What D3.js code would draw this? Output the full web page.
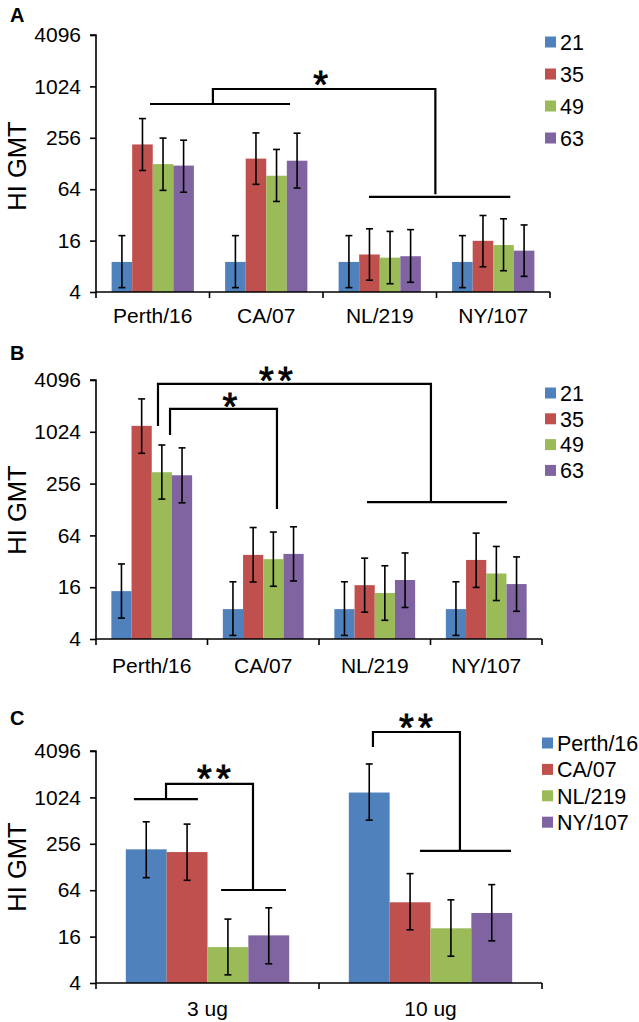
<!DOCTYPE html>
<html><head><meta charset="utf-8">
<script src="https://cdn.jsdelivr.net/npm/d3@7"></script>
<style>body{margin:0;background:#fff}svg{display:block}text{font-family:"Liberation Sans",Arial,sans-serif;fill:#000}</style>
</head><body><svg id="c" width="639" height="1022"></svg>
<script>
const strains = ["Perth/16","CA/07","NL/219","NY/107"];
const days = ["21","35","49","63"];
const doses = ["3 ug","10 ug"];
const yTicks = [4,16,64,256,1024,4096];
const colors = ["#4F81BD","#C0504D","#9BBB59","#8064A2"];

// Panel A: rows = strains, cols = days
const aVal = [[9.0,214,126,121],[9.0,146,92,138],[9.0,11,10.1,10.5],[9.0,15.9,14.2,12.2]];
const aHi  = [[18.3,430,254,240],[18.3,292,187,290],[18.3,22,20.5,21.5],[18.3,31.5,28.8,24.4]];
const aLo  = [[4.5,106,62,59],[4.5,73,46,66],[4.5,5.5,5.0,5.2],[4.5,7.9,7.1,6.1]];
// Panel B
const bVal = [[14.4,1200,347,320],[8.9,38,33.9,39],[8.9,16.9,13.7,19.4],[8.9,33.2,23.1,17.4]];
const bHi  = [[29.8,2470,719,666],[18.5,79,70,80.6],[18.5,34.8,28.4,40],[18.5,68,47.6,36]];
const bLo  = [[7.0,576,169,153],[4.4,18.4,16.4,18.9],[4.4,8.2,6.6,9.3],[4.4,15.9,11.2,8.4]];
// Panel C: rows = doses, cols = strains
const cVal = [[217,200,11.7,16.6],[1184,44.6,20.5,32.4]];
const cHi  = [[494,461,27,37.8],[2780,105,48,75.6]];
const cLo  = [[93,86,5.1,7.1],[519,19.6,8.9,14.1]];

// significance brackets: polylines in (category units, titer)
const aBr = [
  [[0.476,637],[1.71,637]],
  [[1.03,637],[1.03,955],[2.99,955],[2.99,56]],
  [[2.405,52],[3.65,52]]
];
const aStars = [{x:1.98,y:1325,n:1}];
const bBr = [
  [[0.556,1195],[0.556,3690],[3.004,3690],[3.004,156]],
  [[2.43,156],[3.686,156]],
  [[0.664,943],[0.664,1887],[1.623,1887],[1.623,130]]
];
const bStars = [{x:1.614,y:4940,n:2},{x:1.20,y:2470,n:1}];
const cBr = [
  [[0.17,975],[0.457,975]],
  [[0.314,975],[0.314,1530],[0.704,1530],[0.704,64.4]],
  [[0.561,64.4],[0.852,64.4]],
  [[1.242,4600],[1.242,7230],[1.632,7230],[1.632,207]],
  [[1.453,207],[1.861,207]]
];
const cStars = [{x:0.529,y:2260,n:2},{x:1.435,y:10370,n:2}];

const svg = d3.select("#c");

function panel(o){
  const g = svg.append("g");
  const y = d3.scaleLog().base(2).domain([4,4096]).range([o.y0,o.y1]);
  const x0 = d3.scaleBand().domain(o.cats).range([o.x0,o.x1]);
  const x1 = d3.scaleBand().domain(o.series).range([0,x0.bandwidth()]).paddingOuter(o.pad);
  const xu = d3.scaleLinear().domain([0,o.cats.length]).range([o.x0,o.x1]);
  o.cats.forEach((c,i)=>{
    o.series.forEach((s,j)=>{
      const bx = x0(c)+x1(s);
      g.append("rect").attr("x",bx).attr("width",x1.bandwidth())
        .attr("y",y(o.val[i][j])).attr("height",o.y0-y(o.val[i][j]))
        .attr("fill",colors[j]);
    });
  });
  o.cats.forEach((c,i)=>{
    o.series.forEach((s,j)=>{
      const cx = x0(c)+x1(s)+x1.bandwidth()/2;
      const hi=y(o.hi[i][j]), lo=y(o.lo[i][j]);
      g.append("line").attr("x1",cx).attr("x2",cx).attr("y1",hi).attr("y2",lo).attr("stroke","#000").attr("stroke-width",1.6);
      [hi,lo].forEach(v=>g.append("line").attr("x1",cx-3.5).attr("x2",cx+3.5).attr("y1",v).attr("y2",v).attr("stroke","#000").attr("stroke-width",1.6));
    });
  });
  const ya = g.append("g").attr("transform",`translate(${o.x0},0)`)
    .call(d3.axisLeft(y).tickValues(yTicks).tickFormat(d3.format("d")).tickSize(6).tickPadding(9));
  ya.select(".domain").attr("stroke-width",1.6).attr("d",`M-6,${o.y1}H0V${o.y0}`);
  ya.selectAll(".tick line").attr("stroke-width",1.6);
  ya.selectAll("text").attr("font-size",21).attr("font-family","Liberation Sans, Arial, sans-serif");
  const xa = g.append("g").attr("transform",`translate(0,${o.y0})`);
  xa.append("line").attr("x1",o.x0).attr("x2",o.x1).attr("stroke","#000").attr("stroke-width",1.6);
  d3.range(o.cats.length+1).forEach(k=>{
    xa.append("line").attr("x1",xu(k)).attr("x2",xu(k)).attr("y1",0).attr("y2",6).attr("stroke","#000").attr("stroke-width",1.6);
  });
  o.cats.forEach(c=>{
    g.append("text").attr("x",x0(c)+x0.bandwidth()/2).attr("y",o.labY).attr("text-anchor","middle").attr("font-size",21).text(c);
  });
  g.append("text").attr("transform",`translate(26,${o.titleY}) rotate(-90)`).attr("text-anchor","middle").attr("font-size",25.5).text("HI GMT");
  g.append("text").attr("x",10).attr("y",o.letY).attr("font-size",20).attr("font-weight","bold").text(o.letter);
  o.legItems.forEach((t,j)=>{
    const cy = o.legY + j*o.legStep;
    g.append("rect").attr("x",o.legX).attr("y",cy-5.5).attr("width",11).attr("height",11).attr("fill",colors[j]);
    g.append("text").attr("x",o.legX+15).attr("y",cy).attr("dy","0.36em").attr("font-size",21.5).text(t);
  });
  const line = d3.line().x(p=>xu(p[0])).y(p=>y(p[1]));
  o.br.forEach(b=>g.append("path").attr("d",line(b)).attr("fill","none").attr("stroke","#000").attr("stroke-width",2.2));
  o.stars.forEach(s=>{
    const offs = s.n===1 ? [0] : [-9.5,9.5];
    offs.forEach(dx=>{
      g.append("text").attr("x",xu(s.x)+dx).attr("y",y(s.y)).attr("dy","0.56em").attr("text-anchor","middle")
        .attr("font-size",38).attr("stroke","#000").attr("stroke-width",0.9).text("*");
    });
  });
}

panel({cats:strains,series:days,val:aVal,hi:aHi,lo:aLo,x0:96,x1:550,y0:292,y1:35,pad:0.76,
  labY:323,titleY:166,letY:22,letter:"A",legItems:days,legX:545,legY:42,legStep:32,br:aBr,stars:aStars});
panel({cats:strains,series:days,val:bVal,hi:bHi,lo:bLo,x0:96,x1:542,y0:639,y1:380,pad:0.76,
  labY:673,titleY:510,letY:360,letter:"B",legItems:days,legX:545,legY:393,legStep:25.8,br:bBr,stars:bStars});
panel({cats:doses,series:strains,val:cVal,hi:cHi,lo:cLo,x0:96,x1:542,y0:983,y1:751,pad:0.73,
  labY:1016,titleY:867,letY:725,letter:"C",legItems:strains,legX:542,legY:743,legStep:26.4,br:cBr,stars:cStars});
</script></body></html>
